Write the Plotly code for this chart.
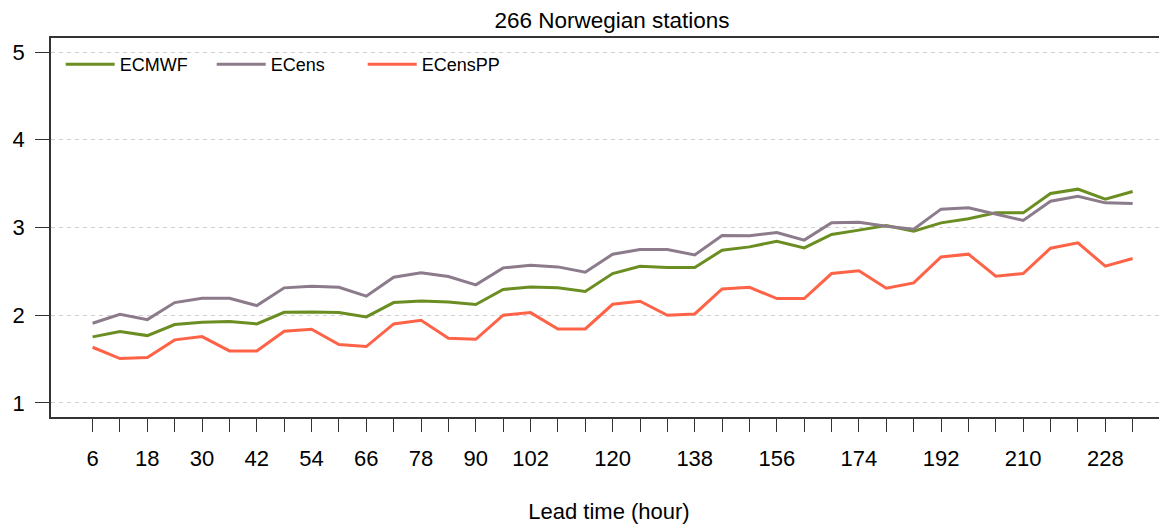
import plotly.graph_objects as go

lead_time = [6, 12, 18, 24, 30, 36, 42, 48, 54, 60, 66, 72, 78, 84, 90, 96, 102, 108, 114,
             120, 126, 132, 138, 144, 150, 156, 162, 168, 174, 180, 186, 192, 198, 204, 210,
             216, 222, 228, 234]

ecmwf = [1.753, 1.814, 1.768, 1.894, 1.920, 1.928, 1.901, 2.034, 2.038, 2.030, 1.981,
         2.144, 2.163, 2.152, 2.122, 2.293, 2.323, 2.314, 2.270, 2.475, 2.559, 2.544,
         2.544, 2.741, 2.779, 2.844, 2.768, 2.920, 2.970, 3.023, 2.958, 3.053, 3.099,
         3.167, 3.167, 3.388, 3.437, 3.323, 3.411]

ecens = [1.909, 2.011, 1.950, 2.144, 2.194, 2.194, 2.110, 2.312, 2.331, 2.319, 2.217,
         2.433, 2.483, 2.441, 2.346, 2.540, 2.570, 2.551, 2.490, 2.696, 2.749, 2.749,
         2.688, 2.909, 2.905, 2.943, 2.856, 3.055, 3.061, 3.015, 2.981, 3.209, 3.224,
         3.152, 3.080, 3.300, 3.357, 3.281, 3.274]

ecenspp = [1.635, 1.506, 1.517, 1.719, 1.757, 1.593, 1.593, 1.817, 1.840, 1.665, 1.643,
           1.901, 1.943, 1.738, 1.726, 2.000, 2.030, 1.842, 1.844, 2.125, 2.160, 2.000,
           2.015, 2.300, 2.319, 2.190, 2.190, 2.475, 2.506, 2.308, 2.369, 2.665, 2.696,
           2.445, 2.475, 2.764, 2.825, 2.559, 2.646]

x_labels = [6, 18, 30, 42, 54, 66, 78, 90, 102, 120, 138, 156, 174, 192, 210, 228]
y_ticks = [1, 2, 3, 4, 5]

series = [("ECMWF", ecmwf, "#6B8E23"),
          ("ECens", ecens, "#8B7B8B"),
          ("ECensPP", ecenspp, "#FF6347")]

FONT = "Liberation Sans, Arial, Helvetica, sans-serif"

# page body has an 8px margin; size the figure so it fills the rest of the window
W, H = 1159, 523

fig = go.Figure()
for name, vals, col in series:
    fig.add_trace(go.Scatter(x=lead_time, y=vals, name=name, mode="lines",
                             line=dict(color=col, width=3)))

ticktext = [str(t) if t in x_labels else "" for t in lead_time]

fig.update_layout(
    width=W, height=H,
    margin=dict(l=43, r=0, t=30, b=114),
    paper_bgcolor="white", plot_bgcolor="white",
    font=dict(family=FONT, size=22, color="black"),
    title=dict(text="266 Norwegian stations", x=604 / W, xref="container",
               xanchor="center", y=1 - 12 / H, yanchor="middle",
               font=dict(size=22.5, color="black"), automargin=False),
    showlegend=True,
    legend=dict(orientation="h", x=0.0087, y=0.93, xanchor="left", yanchor="middle",
                font=dict(size=18), entrywidth=87, entrywidthmode="pixels",
                itemwidth=49, bgcolor="rgba(0,0,0,0)"),
    xaxis=dict(range=[-3.12, 241.53], tickmode="array", tickvals=lead_time,
               ticktext=ticktext, ticks="outside", ticklen=13, tickwidth=1.2,
               tickcolor="#333", showline=True, linecolor="#333", linewidth=1.5,
               mirror=True, showgrid=False, zeroline=False, automargin=False,
               tickfont=dict(size=22), ticklabelstandoff=8,
               title=dict(text="Lead time (hour)", font=dict(size=22), standoff=33)),
    yaxis=dict(range=[0.84, 5.16], tickmode="array", tickvals=y_ticks,
               ticks="outside", ticklen=14, tickwidth=1.2, tickcolor="#333",
               showline=True, linecolor="#333", linewidth=1.5, automargin=False,
               showgrid=True, gridcolor="#d0d0d0", gridwidth=1, griddash="4px,4px",
               zeroline=False, tickfont=dict(size=22), ticklabelstandoff=6),
)

fig.write_html("out.html")
